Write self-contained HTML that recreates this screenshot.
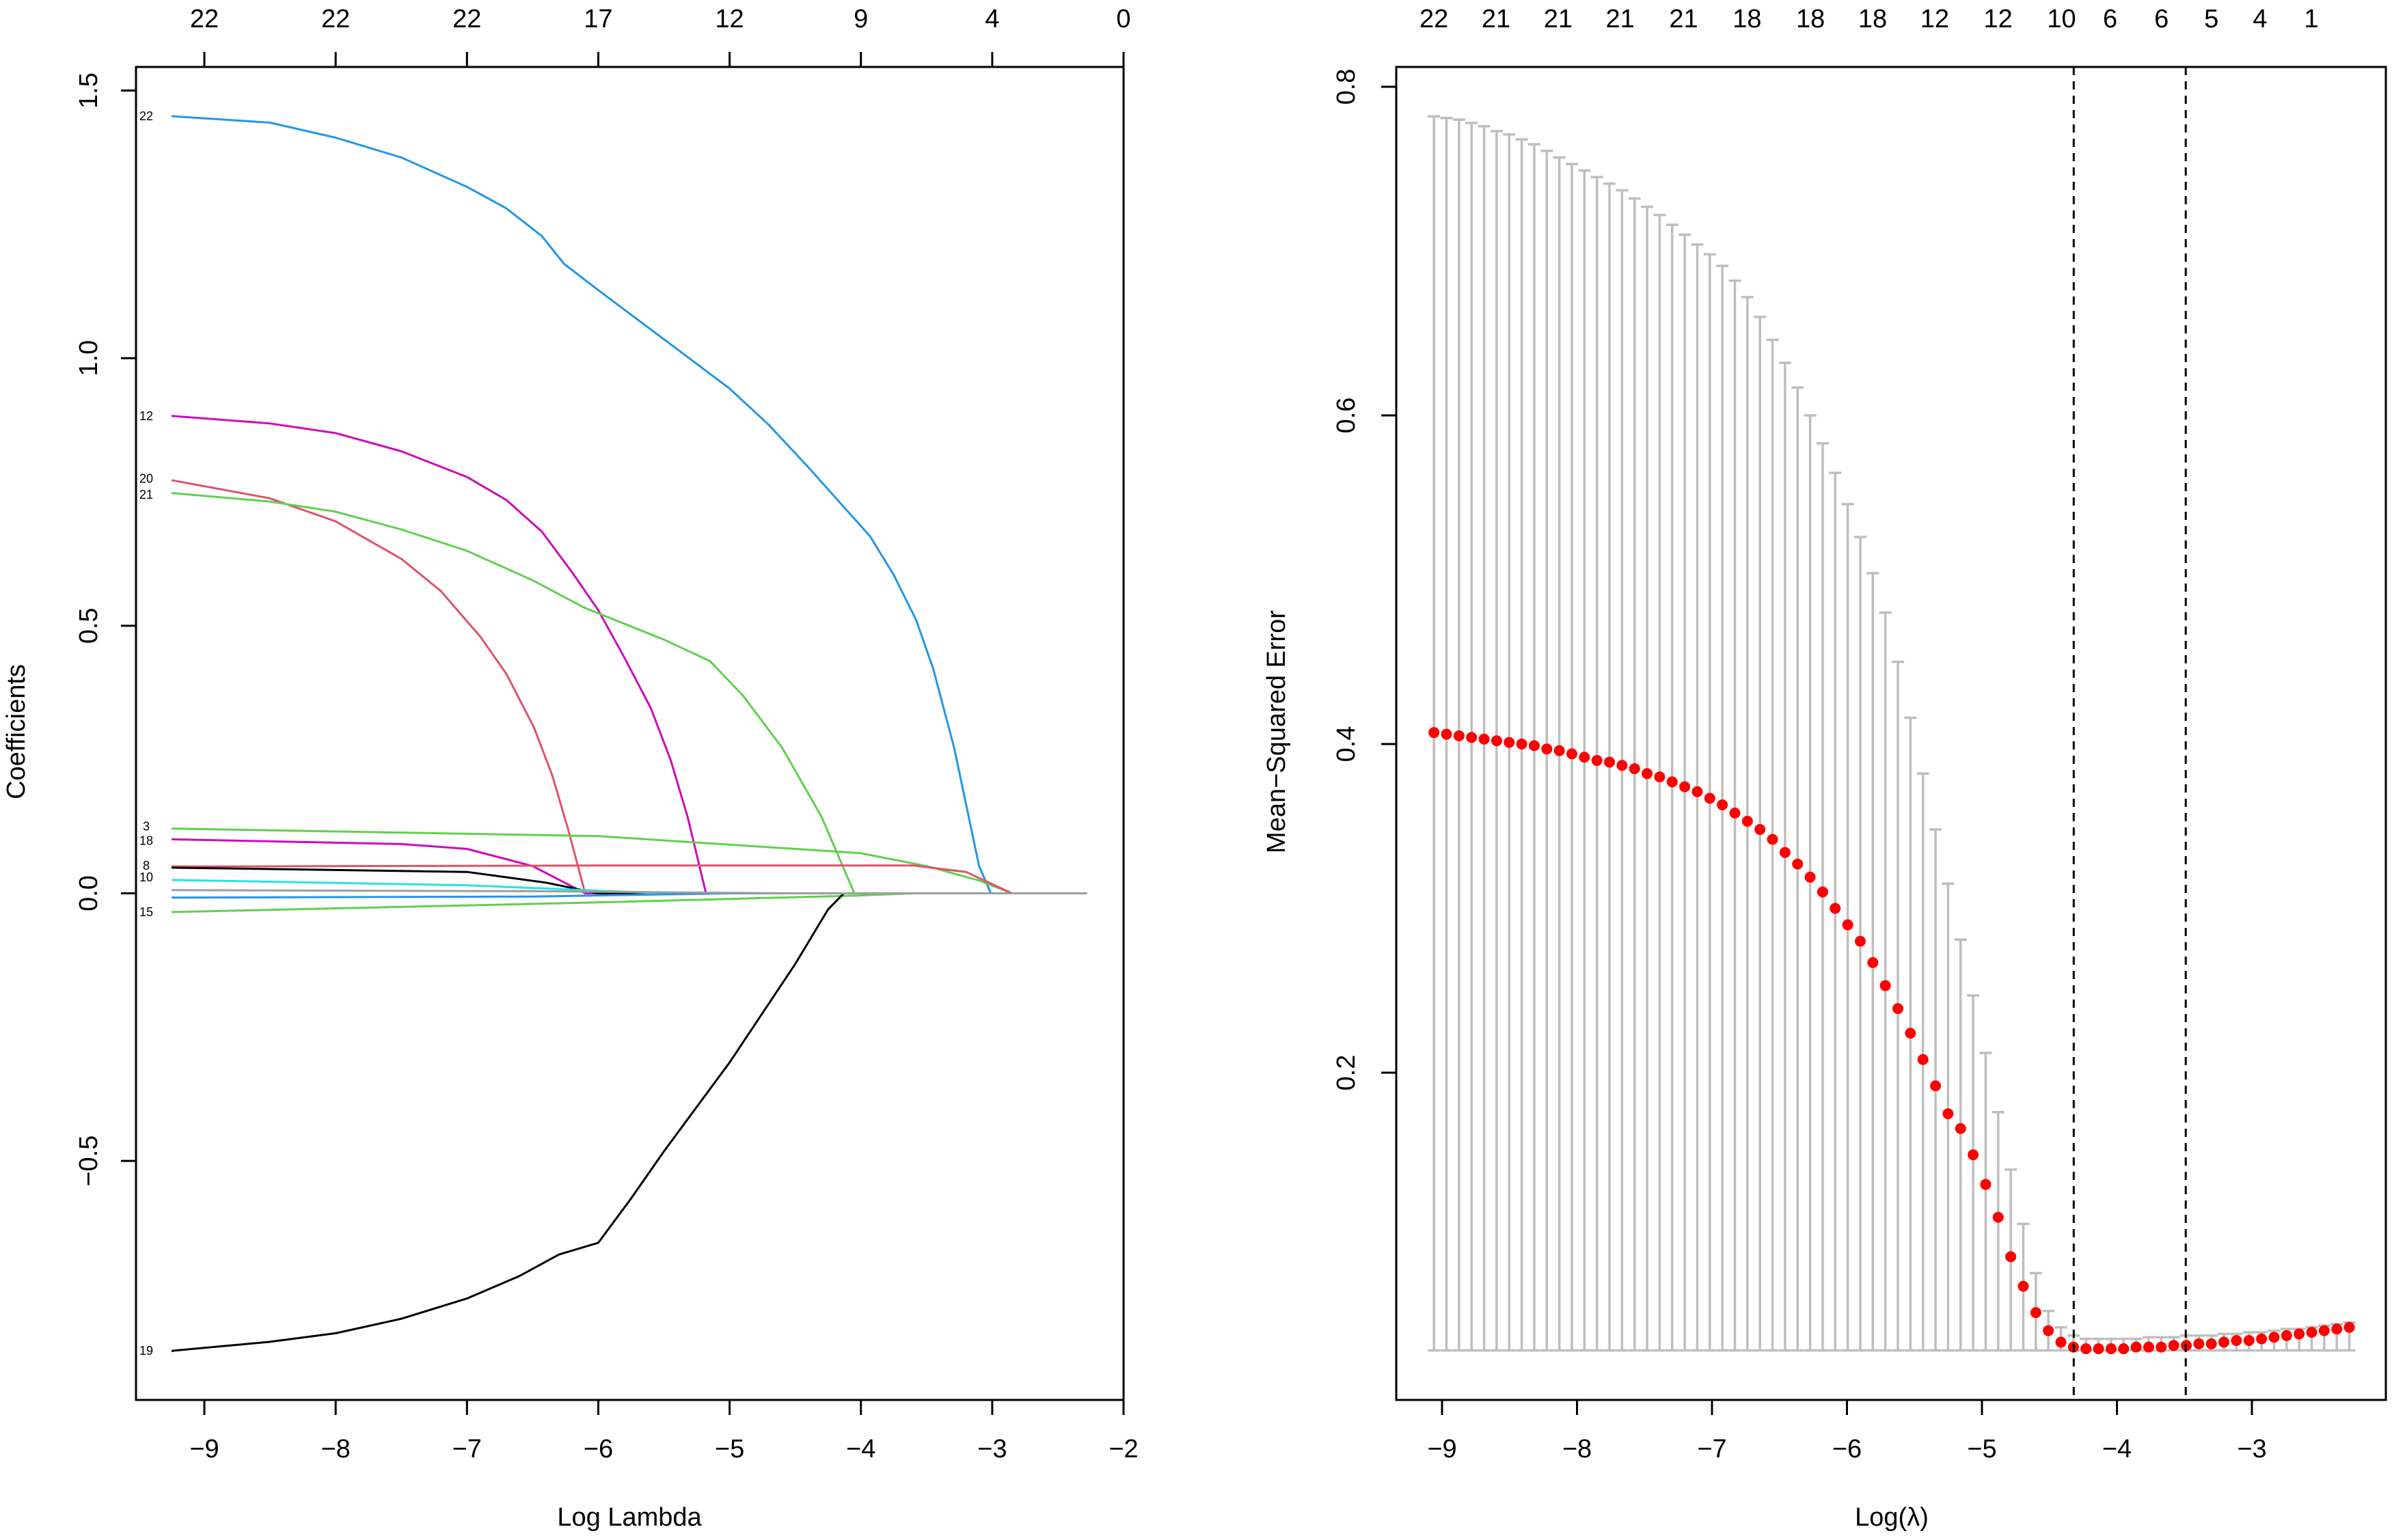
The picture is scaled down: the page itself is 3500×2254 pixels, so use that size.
<!DOCTYPE html>
<html><head><meta charset="utf-8"><style>
html,body{margin:0;padding:0;background:#fff;}
svg{display:block;font-family:"Liberation Sans",Arial,sans-serif;}
</style></head><body>
<svg id="chart" width="3500" height="2254" viewBox="0 0 3500 2254" xmlns="http://www.w3.org/2000/svg">
<g id="left"></g>
<g id="right"></g>
</svg>
<script>
// ---------- LEFT PLOT DATA ----------
const leftXTicks = [-9,-8,-7,-6,-5,-4,-3,-2];
const leftTopLabels = ['22','22','22','17','12','9','4','0'];
const leftYTicks = [-0.5,0,0.5,1.0,1.5];
const leftYTickLabels = ['-0.5','0.0','0.5','1.0','1.5'];
const pathNames = ['22','12','20','21','3','18','8','10','15','19','a','b','c'];
const pathColors = ['#2297E6','#CD0BBC','#DF536B','#61D04F','#61D04F','#CD0BBC','#DF536B','#000000','#61D04F','#000000','#28E2E5','#2297E6','#9E9E9E'];
const pathX = [
 [-9.25,-8.5,-8,-7.5,-7,-6.7,-6.43,-6.26,-6,-5.45,-5,-4.7,-4.4,-3.93,-3.75,-3.58,-3.45,-3.29,-3.1,-3.01,-2.28],
 [-9.25,-8.5,-8,-7.5,-7,-6.7,-6.43,-6.2,-6,-5.8,-5.6,-5.45,-5.32,-5.18,-2.28],
 [-9.25,-8.5,-8,-7.5,-7.2,-6.9,-6.7,-6.49,-6.35,-6.23,-6.1,-2.28],
 [-9.25,-8.5,-8,-7.5,-7,-6.5,-6.1,-5.5,-5.15,-4.9,-4.6,-4.3,-4.05,-2.28],
 [-9.25,-6,-4,-3.5,-3.1,-2.85,-2.28],
 [-9.25,-7.5,-7,-6.5,-6.1,-2.28],
 [-9.25,-6,-3.6,-3.2,-2.85,-2.28],
 [-9.25,-7,-6.4,-6.0,-2.28],
 [-9.25,-6,-4,-3.6,-2.28],
 [-9.25,-8.5,-8,-7.5,-7,-6.6,-6.3,-6,-5.75,-5.5,-5,-4.5,-4.25,-4.13,-2.28],
 [-9.25,-7,-5.5,-2.28],
 [-9.25,-6.5,-5,-2.28],
 [-9.25,-6.5,-4.5,-2.28]
];
const pathY = [
 [1.452,1.440,1.412,1.375,1.320,1.28,1.228,1.176,1.127,1.026,0.943,0.875,0.796,0.667,0.595,0.511,0.42,0.272,0.051,0,0],
 [0.892,0.878,0.860,0.826,0.778,0.735,0.676,0.60,0.529,0.44,0.346,0.25,0.143,0,0],
 [0.772,0.738,0.695,0.625,0.565,0.48,0.41,0.31,0.22,0.12,0,0],
 [0.748,0.732,0.713,0.680,0.640,0.585,0.533,0.474,0.434,0.37,0.272,0.143,0,0],
 [0.121,0.107,0.075,0.051,0.024,0,0],
 [0.101,0.092,0.083,0.051,0,0],
 [0.050,0.052,0.052,0.04,0,0],
 [0.048,0.040,0.020,0,0],
 [-0.035,-0.017,-0.004,0,0],
 [-0.855,-0.838,-0.822,-0.795,-0.757,-0.715,-0.675,-0.653,-0.57,-0.482,-0.316,-0.132,-0.03,0,0],
 [0.025,0.015,0,0],
 [-0.008,-0.006,0,0],
 [0.006,0.004,0,0]
];
const pathLabelY = [1.452,0.892,0.775,0.745,0.125,0.098,0.052,0.03,-0.035,-0.855];
const pathLabelText = ['22','12','20','21','3','18','8','10','15','19'];

// ---------- RIGHT PLOT DATA ----------
const cvLogLambda0 = -9.06, cvStep = 0.0929;
const cvMean = [.407,.406,.405,.404,.403,.402,.401,.400,.399,.397,.396,.394,.392,.390,.389,.387,.385,.382,.380,.377,.374,.371,.367,.363,.358,.353,.348,.342,.334,.327,.319,.310,.300,.290,.280,.267,.253,.239,.224,.208,.192,.175,.166,.150,.132,.112,.088,.070,.054,.043,.036,.033,.032,.032,.032,.032,.033,.033,.033,.034,.034,.035,.035,.036,.037,.037,.038,.039,.040,.041,.042,.043,.044,.045];
const cvUpper = [.782,.781,.780,.778,.776,.773,.771,.768,.765,.761,.757,.753,.749,.745,.741,.737,.732,.727,.722,.716,.710,.704,.698,.691,.682,.672,.660,.646,.632,.617,.600,.583,.565,.546,.526,.504,.480,.450,.416,.382,.348,.315,.281,.247,.212,.176,.141,.108,.078,.055,.045,.040,.038,.038,.038,.038,.038,.039,.039,.039,.040,.040,.040,.041,.041,.042,.042,.043,.044,.044,.045,.046,.047,.048];
const cvLower = Array(74).fill(0.031);
const rightXTicks = [-9,-8,-7,-6,-5,-4,-3];
const rightYTicks = [0.2,0.4,0.6,0.8];
const rightYTickLabels = ['0.2','0.4','0.6','0.8'];
const rightTopPos = [-9.06,-8.60,-8.14,-7.68,-7.21,-6.74,-6.27,-5.81,-5.35,-4.88,-4.41,-4.05,-3.67,-3.30,-2.94,-2.56];
const rightTopLabels = ['22','21','21','21','21','18','18','18','12','12','10','6','6','5','4','1'];
const lambdaMin = -4.32, lambda1se = -3.49;

// ---------- helpers ----------
const NS='http://www.w3.org/2000/svg';
function mk(parent,tag,attrs,text){const e=document.createElementNS(NS,tag);for(const k in attrs)e.setAttribute(k,attrs[k]);if(text!==undefined)e.textContent=text;parent.appendChild(e);return e;}
const TOP=98, BOT=2049, TICKY=2133, TITLEY=2233, TOPY=40;
const xL=v=>299+(v+9)*192.14, yL=v=>1307.5-v*783.3;
const xR=v=>2110+(v+9)*197.5, yR=v=>2051-v*2405;

// ---------- LEFT ----------
const L=document.getElementById('left');
let box=mk(L,'rect',{x:199,y:TOP,width:1445,height:BOT-TOP,fill:'none',stroke:'#000','stroke-width':3});


pathX.forEach((xs,i)=>{
  const pts=xs.map((x,j)=>xL(x).toFixed(1)+','+yL(pathY[i][j]).toFixed(1)).join(' ');
  const pl=mk(L,'polyline',{points:pts,fill:'none',stroke:pathColors[i],'stroke-width':3,'stroke-linejoin':'round'});
  
  
});
pathLabelText.forEach((t,i)=>{
  const tx=mk(L,'text',{x:214,y:yL(pathLabelY[i])+6,'font-size':18,'text-anchor':'middle',fill:'#000'},t);
  
  
});
leftXTicks.forEach((v,i)=>{
  const x=xL(v);
  mk(L,'line',{x1:x,y1:BOT,x2:x,y2:BOT+22,stroke:'#000','stroke-width':3});
  const t=mk(L,'text',{x:x,y:TICKY,'font-size':38,'text-anchor':'middle'},String(v).replace('-','\u2212'));
  
  
  mk(L,'line',{x1:x,y1:TOP,x2:x,y2:TOP-22,stroke:'#000','stroke-width':3});
  const t2=mk(L,'text',{x:x,y:TOPY,'font-size':38,'text-anchor':'middle'},leftTopLabels[i]);
  
  
});
leftYTicks.forEach((v,i)=>{
  const y=yL(v);
  mk(L,'line',{x1:199,y1:y,x2:177,y2:y,stroke:'#000','stroke-width':3});
  const t=mk(L,'text',{x:0,y:0,'font-size':38,'text-anchor':'middle',transform:`translate(142,${y}) rotate(-90)`},leftYTickLabels[i].replace('-','\u2212'));
  
  
});
let tt=mk(L,'text',{x:921,y:TITLEY,'font-size':38,'text-anchor':'middle'},'Log Lambda');


tt=mk(L,'text',{x:0,y:0,'font-size':38,'text-anchor':'middle',transform:'translate(36,1071) rotate(-90)'},'Coefficients');



// ---------- RIGHT ----------
const R=document.getElementById('right');
box=mk(R,'rect',{x:2043,y:TOP,width:1448,height:BOT-TOP,fill:'none',stroke:'#000','stroke-width':3});


cvMean.forEach((m,i)=>{
  const x=xR(cvLogLambda0+i*cvStep);
  const eb=mk(R,'path',{d:`M${x-9},${yR(cvUpper[i])}H${x+9}M${x},${yR(cvUpper[i])}V${yR(cvLower[i])}M${x-9},${yR(cvLower[i])}H${x+9}`,stroke:'#BEBEBE','stroke-width':3.5,fill:'none'});
  
  
});
cvMean.forEach((m,i)=>{
  const x=xR(cvLogLambda0+i*cvStep);
  const c=mk(R,'circle',{cx:x,cy:yR(m),r:8,fill:'#FF0000'});
  
  
});
[lambdaMin,lambda1se].forEach((v,i)=>{
  const l=mk(R,'line',{x1:xR(v),y1:TOP,x2:xR(v),y2:BOT,stroke:'#000','stroke-width':3,'stroke-dasharray':'12,9'});
  
  
});
rightXTicks.forEach(v=>{
  const x=xR(v);
  mk(R,'line',{x1:x,y1:BOT,x2:x,y2:BOT+22,stroke:'#000','stroke-width':3});
  const t=mk(R,'text',{x:x,y:TICKY,'font-size':38,'text-anchor':'middle'},String(v).replace('-','\u2212'));
  
  
});
rightTopPos.forEach((v,i)=>{
  const t=mk(R,'text',{x:xR(v),y:TOPY,'font-size':38,'text-anchor':'middle'},rightTopLabels[i]);
  
  
});
rightYTicks.forEach((v,i)=>{
  const y=yR(v);
  mk(R,'line',{x1:2043,y1:y,x2:2021,y2:y,stroke:'#000','stroke-width':3});
  const t=mk(R,'text',{x:0,y:0,'font-size':38,'text-anchor':'middle',transform:`translate(1982,${y}) rotate(-90)`},rightYTickLabels[i]);
  
  
});
tt=mk(R,'text',{x:2768,y:TITLEY,'font-size':38,'text-anchor':'middle'},'Log(\u03BB)');


tt=mk(R,'text',{x:0,y:0,'font-size':38,'text-anchor':'middle',transform:'translate(1880,1071) rotate(-90)'},'Mean\u2212Squared Error');


</script>
</body></html>
